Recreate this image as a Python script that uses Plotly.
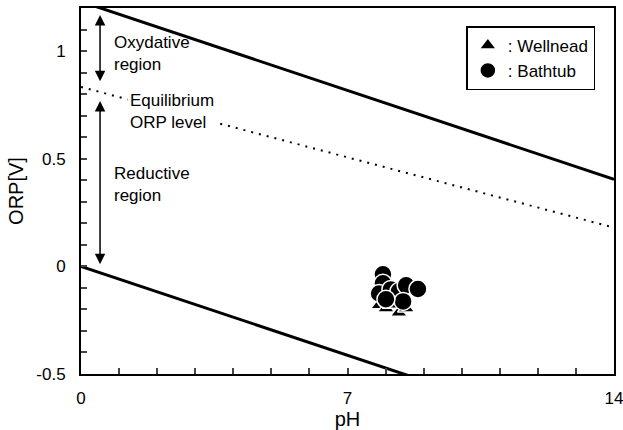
import plotly.graph_objects as go

# Data
well_ph = [7.83, 8.01, 8.35, 8.54, 8.14]
well_orp = [-0.18, -0.195, -0.214, -0.195, -0.177]
bath_ph = [7.93, 7.93, 7.83, 8.14, 8.35, 8.54, 8.85, 8.46, 8.01]
bath_orp = [-0.037, -0.079, -0.126, -0.107, -0.116, -0.088, -0.105, -0.163, -0.153]

line_ph = [0, 14]
upper_orp = [1.23, 0.404]
lower_orp = [0.0, -0.826]
equil_orp = [0.833, 0.18]

FONT = "Liberation Sans, Arial, sans-serif"

fig = go.Figure()
fig.add_trace(go.Scatter(x=line_ph, y=upper_orp, mode="lines",
                         line=dict(color="black", width=3), showlegend=False, hoverinfo="skip"))
fig.add_trace(go.Scatter(x=line_ph, y=lower_orp, mode="lines",
                         line=dict(color="black", width=3), showlegend=False, hoverinfo="skip"))
fig.add_trace(go.Scatter(x=line_ph, y=equil_orp, mode="lines",
                         line=dict(color="black", width=2, dash="2px,6px"),
                         showlegend=False, hoverinfo="skip"))
fig.add_trace(go.Scatter(x=well_ph, y=well_orp, mode="markers", name=": Wellnead",
                         marker=dict(symbol="triangle-up", size=15, color="black",
                                     line=dict(color="white", width=1.5))))
fig.add_trace(go.Scatter(x=bath_ph, y=bath_orp, mode="markers", name=": Bathtub",
                         marker=dict(symbol="circle", size=18, color="black",
                                     line=dict(color="white", width=1.5))))

# arrows
for y0, y1 in [(1.175, 0.86), (0.775, 0.01)]:
    fig.add_annotation(x=0.5, y=y1, ax=0.5, ay=y0, xref="x", yref="y", axref="x", ayref="y",
                       text="", showarrow=True, arrowhead=2, startarrowhead=2,
                       arrowside="end+start", arrowsize=1.4, startarrowsize=1.4,
                       arrowwidth=1.5, arrowcolor="black")

texts = [("Oxydative<br>region", 0.78, 0.99, None),
         ("Equilibrium<br>ORP level", 1.22, 0.72, "white"),
         ("Reductive<br>region", 0.78, 0.38, None)]
for t, x, y, bg in texts:
    fig.add_annotation(x=x, y=y, xref="x", yref="y", text=t, showarrow=False,
                       xanchor="left", yanchor="middle", align="left",
                       font=dict(family=FONT, size=17, color="black"),
                       bgcolor=bg if bg else "rgba(0,0,0,0)", borderpad=2)

fig.update_layout(
    width=623, height=430,
    margin=dict(l=81, r=9, t=8, b=56),
    paper_bgcolor="white", plot_bgcolor="white",
    font=dict(family=FONT, size=17, color="black"),
    legend=dict(x=0.965, y=0.95, xanchor="right", yanchor="top",
                bordercolor="black", borderwidth=1.5, bgcolor="white",
                font=dict(size=17), itemwidth=30, tracegroupgap=0),
)
fig.update_xaxes(range=[0, 14], tickvals=[0, 7, 14], ticks="inside", ticklen=6,
                 tickwidth=1.5, minor=dict(dtick=1, ticks="inside", ticklen=6, tickwidth=1.5),
                 showline=True, linecolor="black", linewidth=2, mirror=True,
                 showgrid=False, zeroline=False, title=dict(text="pH", standoff=8),
                 tickfont=dict(size=17), ticklabelstandoff=8, automargin=False,
                 ticklabeloverflow="allow")
fig.update_yaxes(range=[-0.5, 1.2], tickvals=[-0.5, 0, 0.5, 1], ticktext=["-0.5", "0", "0.5", "1"],
                 ticks="inside", ticklen=6, tickwidth=1.5,
                 minor=dict(dtick=0.1, tick0=0, ticks="inside", ticklen=6, tickwidth=1.5),
                 showline=True, linecolor="black", linewidth=2, mirror=True,
                 showgrid=False, zeroline=False, title=dict(text="ORP[V]", standoff=7),
                 tickfont=dict(size=17), ticklabelstandoff=10, automargin=False,
                 ticklabeloverflow="allow")

fig.write_html("out.html")
